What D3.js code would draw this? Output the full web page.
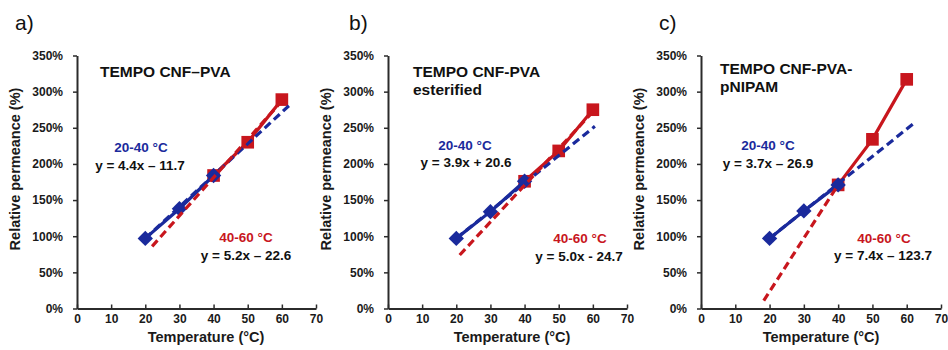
<!DOCTYPE html>
<html>
<head>
<meta charset="utf-8">
<script src="https://cdn.jsdelivr.net/npm/d3@7"></script>
<style>
  html, body { margin: 0; padding: 0; background: #fff; }
  svg { display: block; font-family: "Liberation Sans", Arial, sans-serif; }
</style>
</head>
<body>
<svg id="chart" width="948" height="350"></svg>
<script>
// ---------- DATA ----------
const panelLabels = ["a)", "b)", "c)"];
const panelTitles = [["TEMPO CNF\u2013PVA"], ["TEMPO CNF-PVA", "esterified"], ["TEMPO CNF-PVA-", "pNIPAM"]];

const xTicks = [0, 10, 20, 30, 40, 50, 60, 70];
const yTicks = [0, 50, 100, 150, 200, 250, 300, 350];

const lowTemps = [20, 30, 40];
const highTemps = [40, 50, 60];

const lowA = [97, 138, 184];
const highA = [184, 230, 289];
const lowB = [97, 134, 176];
const highB = [176, 218, 275];
const lowC = [97, 135, 171];
const highC = [171, 234, 317];

// trend-line endpoints: [temperature, permeance %]
const lowTrendA = [[20, 97], [62.4, 282]];
const highTrendA = [[22, 86], [60, 287]];
const lowTrendB = [[20, 97], [60.6, 252]];
const highTrendB = [[21, 74], [60, 272]];
const lowTrendC = [[20, 97], [61.8, 255]];
const highTrendC = [[18.3, 11], [40, 171]];

const rangeLabels = ["20-40 \u00B0C", "40-60 \u00B0C"];
const eqLow = ["y = 4.4x \u2013 11.7", "y = 3.9x + 20.6", "y = 3.7x \u2013 26.9"];
const eqHigh = ["y = 5.2x \u2013 22.6", "y = 5.0x - 24.7", "y = 7.4x \u2013 123.7"];

// ---------- LAYOUT ----------
const BLUE = "#1a2a9c";
const RED = "#c8161d";
const AX = "#2b2b2b";
const panels = [
  { left: 77, width: 239, low: lowA, high: highA, lt: lowTrendA, ht: highTrendA,
    lab: [15, 30], title: [100, 77], lowLab: [141, 152], lowEq: [140, 170], highLab: [246, 242], highEq: [246, 260], xt: 206 },
  { left: 388, width: 239, low: lowB, high: highB, lt: lowTrendB, ht: highTrendB,
    lab: [349, 30], title: [413, 77], lowLab: [465, 150], lowEq: [466, 167], highLab: [580, 243], highEq: [579, 261], xt: 512 },
  { left: 701, width: 240, low: lowC, high: highC, lt: lowTrendC, ht: highTrendC,
    lab: [659, 30], title: [720, 74], lowLab: [768, 150], lowEq: [768, 168], highLab: [884, 243], highEq: [883, 260], xt: 821 }
];
const TOP = 55.5, BOTTOM = 308.5;

const svg = d3.select("#chart");

panels.forEach((p, i) => {
  const x = d3.scaleLinear().domain([0, 70]).range([p.left, p.left + p.width]);
  const y = d3.scaleLinear().domain([0, 350]).range([BOTTOM, TOP]);
  const g = svg.append("g");

  // panel letter
  g.append("text").attr("x", p.lab[0]).attr("y", p.lab[1])
    .attr("font-size", 21).attr("fill", "#111").text(panelLabels[i]);

  // axes
  const yAxis = d3.axisLeft(y).tickValues(yTicks).tickFormat(d => d + "%")
    .tickSizeInner(4).tickSizeOuter(0).tickPadding(10);
  const gy = g.append("g").attr("transform", `translate(${p.left},0)`).call(yAxis);
  const xAxis = d3.axisBottom(x).tickValues(xTicks).tickFormat(d3.format("d"))
    .tickSizeInner(-4).tickSizeOuter(0).tickPadding(6);
  const gx = g.append("g").attr("transform", `translate(0,${BOTTOM})`).call(xAxis);
  [gx, gy].forEach(a => {
    a.select(".domain").attr("stroke", AX).attr("stroke-width", 2);
    a.selectAll(".tick line").attr("stroke", AX).attr("stroke-width", 1.5);
    a.selectAll(".tick text").attr("font-size", 12).attr("font-weight", "bold")
      .attr("fill", "#1a1a1a").attr("font-family", "Liberation Sans, Arial, sans-serif");
  });

  // axis titles
  g.append("text").attr("transform", `translate(${p.left - 57},${(TOP + BOTTOM) / 2 - 13}) rotate(-90)`)
    .attr("text-anchor", "middle").attr("font-size", 14.5).attr("font-weight", "bold")
    .attr("fill", "#1a1a1a").text("Relative permeance (%)");
  g.append("text").attr("x", p.xt).attr("y", 342).attr("text-anchor", "middle")
    .attr("font-size", 14.5).attr("font-weight", "bold").attr("fill", "#1a1a1a")
    .text("Temperature (\u00B0C)");

  // title
  panelTitles[i].forEach((t, k) => {
    g.append("text").attr("x", p.title[0]).attr("y", p.title[1] + k * 18)
      .attr("font-size", 15.5).attr("font-weight", "bold").attr("fill", "#111").text(t);
  });

  const line = d3.line().x(d => x(d[0])).y(d => y(d[1]));
  const lowPts = lowTemps.map((t, k) => [t, p.low[k]]);
  const highPts = highTemps.map((t, k) => [t, p.high[k]]);

  // red series
  g.append("path").datum(highPts).attr("d", line).attr("fill", "none")
    .attr("stroke", RED).attr("stroke-width", 3.2);
  g.selectAll(null).data(highPts).enter().append("path")
    .attr("d", d3.symbol().type(d3.symbolSquare).size(160))
    .attr("transform", d => `translate(${x(d[0])},${y(d[1])})`).attr("fill", RED);

  // blue series
  g.append("path").datum(lowPts).attr("d", line).attr("fill", "none")
    .attr("stroke", BLUE).attr("stroke-width", 3.2);
  g.selectAll(null).data(lowPts).enter().append("path")
    .attr("d", d3.symbol().type(d3.symbolSquare).size(118))
    .attr("transform", d => `translate(${x(d[0])},${y(d[1])}) rotate(45)`).attr("fill", BLUE);

  // trend lines
  g.append("path").datum(p.lt).attr("d", line).attr("fill", "none")
    .attr("stroke", BLUE).attr("stroke-width", 3.2).attr("stroke-dasharray", "8,4.5");
  g.append("path").datum(p.ht).attr("d", line).attr("fill", "none")
    .attr("stroke", RED).attr("stroke-width", 3.2).attr("stroke-dasharray", "8,4.5");

  // annotations
  const ann = (pos, txt, col) => g.append("text").attr("x", pos[0]).attr("y", pos[1])
    .attr("text-anchor", "middle").attr("font-size", 13.5).attr("font-weight", "bold")
    .attr("fill", col).text(txt);
  ann(p.lowLab, rangeLabels[0], BLUE);
  ann(p.lowEq, eqLow[i], "#111");
  ann(p.highLab, rangeLabels[1], RED);
  ann(p.highEq, eqHigh[i], "#111");
});
</script>
</body>
</html>
